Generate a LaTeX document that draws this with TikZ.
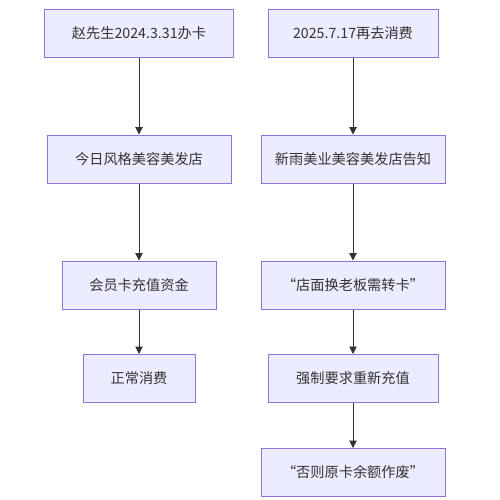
\documentclass[tikz,border=0pt]{standalone}
\usepackage{fontspec}
\setmainfont{Noto Sans CJK SC}
\usetikzlibrary{arrows.meta}
\definecolor{boxfill}{HTML}{ECECFF}
\definecolor{boxline}{HTML}{9370DB}
\definecolor{txt}{HTML}{333333}
\tikzset{
  stepbox/.style={draw=boxline, fill=boxfill, line width=1pt, text=txt,
    font=\fontsize{14.2pt}{16pt}\selectfont, inner sep=0pt, minimum height=48pt},
  conn/.style={draw=txt, line width=1pt, -{Triangle[width=7.5pt,length=7.5pt]}}
}
\begin{document}
\begin{tikzpicture}[x=1pt,y=-1pt]
\useasboundingbox (0,0) rectangle (500,500);
\node[stepbox, minimum width=189pt] (l1) at (139,33.5) {赵先生2024.3.31办卡};
\node[stepbox, minimum width=184pt] (l2) at (139,159) {今日风格美容美发店};
\node[stepbox, minimum width=154pt] (l3) at (139,285) {会员卡充值资金};
\node[stepbox, minimum width=112pt] (l4) at (139,378.5) {正常消费};
\node[stepbox, minimum width=170pt] (r1) at (353,33.5) {2025.7.17再去消费};
\node[stepbox, minimum width=184pt] (r2) at (353,159) {新雨美业美容美发店告知};
\node[stepbox, minimum width=184pt] (r3) at (353,285) {“店面换老板需转卡”};
\node[stepbox, minimum width=170pt] (r4) at (353,378.5) {强制要求重新充值};
\node[stepbox, minimum width=184pt] (r5) at (353,472.5) {“否则原卡余额作废”};
\draw[conn] (l1) -- (l2);
\draw[conn] (l2) -- (l3);
\draw[conn] (l3) -- (l4);
\draw[conn] (r1) -- (r2);
\draw[conn] (r2) -- (r3);
\draw[conn] (r3) -- (r4);
\draw[conn] (r4) -- (r5);
\end{tikzpicture}
\end{document}
